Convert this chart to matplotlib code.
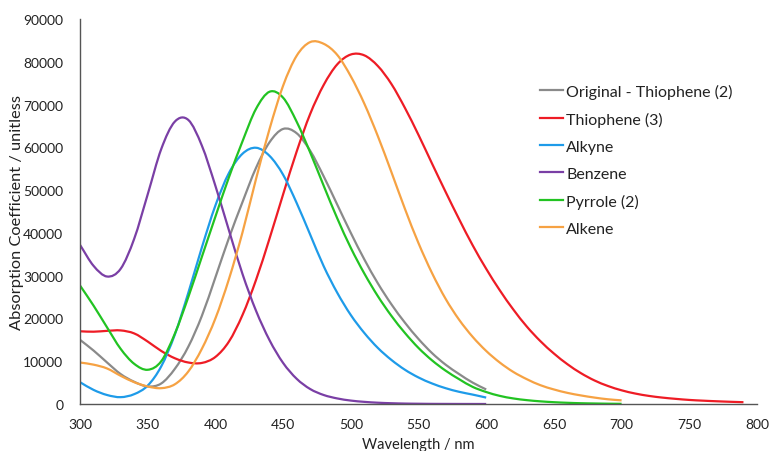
import matplotlib
matplotlib.use("Agg")
import matplotlib.pyplot as plt
from matplotlib.path import Path
from matplotlib.patches import PathPatch
from matplotlib.lines import Line2D

# ---- data ----
wl_gray = [300,310,320,330,340,350,360,370,380,390,400,410,420,430,440,450,460,470,480,490,500,
           510,520,530,540,550,560,570,580,590,600]
ab_gray = [15000,12500,9700,7000,5200,4100,4800,8200,13400,20600,29600,38800,47200,55200,61200,64300,63300,59200,53200,46600,40000,
           33800,28200,23300,19000,15200,11900,9200,7000,5000,3400]

wl_red = [300,310,320,330,340,350,360,370,380,390,400,410,420,430,440,450,460,470,480,490,500,
          510,520,530,540,550,560,570,580,590,600,610,620,630,640,650,660,670,680,690,700,
          710,720,730,740,750,760,770,780,790]
ab_red = [17000,16900,17100,17200,16500,14600,12400,10700,9700,9600,11000,14600,20800,29000,38700,49000,59000,67800,74600,79400,81700,
          81500,79000,74800,69200,62900,56200,49600,43200,37100,31600,26600,22100,18100,14700,11800,9300,7200,5500,4200,3200,
          2450,1900,1500,1200,950,780,640,520,420]

wl_blue = [300,310,320,330,340,350,360,370,380,390,400,410,420,430,440,450,460,470,480,490,500,
           510,520,530,540,550,560,570,580,590,600]
ab_blue = [5100,3300,2100,1600,2300,4300,8800,16200,26000,36600,46400,54000,58500,59900,58000,53600,47000,39600,32200,26000,20800,
           16600,13100,10300,8000,6200,4800,3700,2850,2200,1500]

wl_purple = [300,310,320,330,340,350,360,370,380,390,400,410,420,430,440,450,460,470,480,490,500,
             510,520,530,540,550,560,570,580,590,600]
ab_purple = [37200,32300,29800,31600,38600,49000,59600,66000,66400,60400,51000,40600,30400,21800,14900,9600,5900,3500,2100,1300,800,
             500,300,180,100,60,30,20,10,5,0]

wl_green = [300,310,320,330,340,350,360,370,380,390,400,410,420,430,440,450,460,470,480,490,500,
            510,520,530,540,550,560,570,580,590,600,610,620,630,640,650,660,670,680,690,700]
ab_green = [27700,23000,17900,12900,9400,8000,10000,16400,25000,34400,43800,53000,61400,69000,73000,71600,66000,58800,51000,43400,36500,
            30500,25200,20600,16600,13100,10200,7800,5800,4000,2800,1900,1300,900,620,420,280,180,120,70,40]

wl_orange = [300,310,320,330,340,350,360,370,380,390,400,410,420,430,440,450,460,470,480,490,500,
             510,520,530,540,550,560,570,580,590,600,610,620,630,640,650,660,670,680,690,700]
ab_orange = [9700,9200,8300,6600,5100,4100,3700,4600,7600,12900,20000,29200,40100,52600,64300,74400,81400,84600,84200,81600,76600,
             70200,62600,54200,45600,37600,30600,24600,19700,15700,12400,9700,7500,5800,4400,3400,2600,2000,1500,1100,850]

series = [
    ("Original - Thiophene (2)", wl_gray, ab_gray, "#8a8a8a"),
    ("Thiophene (3)", wl_red, ab_red, "#ee1c25"),
    ("Alkyne", wl_blue, ab_blue, "#1e9be9"),
    ("Benzene", wl_purple, ab_purple, "#7a3fa5"),
    ("Pyrrole (2)", wl_green, ab_green, "#22c322"),
    ("Alkene", wl_orange, ab_orange, "#f6a243"),
]

x_ticks = [300, 350, 400, 450, 500, 550, 600, 650, 700, 750, 800]
y_ticks = [0, 10000, 20000, 30000, 40000, 50000, 60000, 70000, 80000, 90000]


def smooth_path(x, y):
    """Cubic Hermite (Bezier) path through the data points, like a smoothed line chart."""
    n = len(x)
    m = []
    for i in range(n):
        if i == 0:
            m.append((y[1] - y[0]) / (x[1] - x[0]))
        elif i == n - 1:
            m.append((y[-1] - y[-2]) / (x[-1] - x[-2]))
        else:
            m.append((y[i + 1] - y[i - 1]) / (x[i + 1] - x[i - 1]))
    verts = [(x[0], y[0])]
    codes = [Path.MOVETO]
    for i in range(n - 1):
        h = x[i + 1] - x[i]
        verts += [(x[i] + h / 3, y[i] + m[i] * h / 3),
                  (x[i + 1] - h / 3, y[i + 1] - m[i + 1] * h / 3),
                  (x[i + 1], y[i + 1])]
        codes += [Path.CURVE4] * 3
    return Path(verts, codes)


plt.rcParams['font.family'] = ['Lato', 'DejaVu Sans']

fig = plt.figure(figsize=(7.69, 4.52), dpi=100)
ax = fig.add_axes([80/769, 47/452, 677/769, 385/452])

handles = []
for name, x, y, c in series:
    patch = PathPatch(smooth_path(x, y), facecolor='none', edgecolor=c, lw=1.6,
                      transform=ax.transData, capstyle='butt', joinstyle='round')
    ax.add_patch(patch)
    handles.append(Line2D([], [], color=c, lw=1.6, label=name))

ax.set_xlim(300, 800)
ax.set_ylim(0, 90000)
ax.set_xticks(x_ticks)
ax.set_yticks(y_ticks)
ax.set_xticklabels([str(v) for v in x_ticks])
ax.set_yticklabels([str(v) for v in y_ticks])
ax.tick_params(length=0, labelsize=10, colors='#222222')
ax.tick_params(axis='y', pad=12)
ax.tick_params(axis='x', pad=10)

for s in ['top', 'right']:
    ax.spines[s].set_visible(False)
for s in ['left', 'bottom']:
    ax.spines[s].set_color('#555555')
    ax.spines[s].set_linewidth(1.0)

ax.set_xlabel("Wavelength / nm", fontsize=10.5, color='#222222', labelpad=5)
ax.set_ylabel("Absorption Coefficient / unitless", fontsize=11.8, color='#222222')
ax.yaxis.set_label_coords(-0.083, 0.5)

leg = ax.legend(handles=handles, loc='upper left', bbox_to_anchor=(532/769, 1 - 77/452),
                bbox_transform=fig.transFigure, frameon=False, fontsize=11.5,
                handlelength=1.45, handletextpad=0.2, labelspacing=0.8, borderpad=0)
for t in leg.get_texts():
    t.set_color('#222222')

fig.savefig("out.png", dpi=100)
